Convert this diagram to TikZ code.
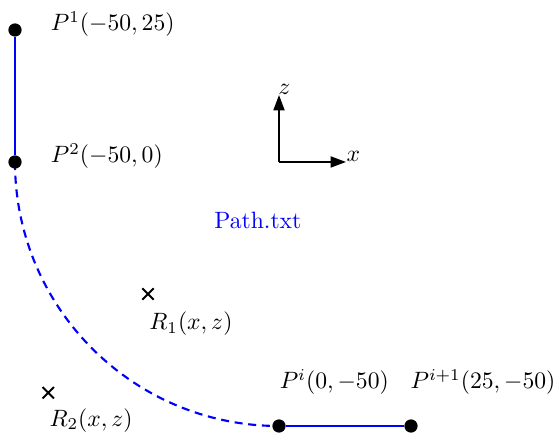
\documentclass[tikz,border=0pt]{standalone}
\usepackage{amsmath}
\usepackage{xcolor}
\usepackage{tikz}
\usetikzlibrary{arrows.meta,positioning,shapes.misc,backgrounds}
\definecolor{cpath}{HTML}{0000FF}
\tikzset{
  pdot/.style={circle, fill=black, inner sep=0pt, minimum size=5.6pt},
  rx/.style={cross out, draw=black, thick, inner sep=0pt, minimum size=4pt},
  lbl/.style={inner sep=1pt},
  seg/.style={draw=cpath, line width=0.9pt},
  dseg/.style={draw=cpath, line width=0.9pt, dash pattern=on 3.4pt off 2.4pt},
  axarr/.style={-{Triangle[length=6.5pt,width=4.6pt]}, line width=0.9pt},
}

\begin{document}
\begin{tikzpicture}[x=0.0785cm, y=0.0785cm]
  \useasboundingbox (-52.84,-51.33) rectangle (52.27,30.68);

  % path points
  \node[pdot] (p1) at (-50,25) {};
  \node[pdot] (p2) at (-50,0) {};
  \node[pdot] (pi) at (0,-50) {};
  \node[pdot] (pj) at (25,-50) {};

  \node[lbl, right=11pt of p1, yshift=2.5pt] (p1l) {$P^1(-50,25)$};
  \node[lbl, right=11pt of p2, yshift=2.5pt] (p2l) {$P^2(-50,0)$};
  \node[lbl, above right=10pt and -3pt of pi] (pil) {$P^i(0,-50)$};
  \node[lbl, above right=10pt and -3.5pt of pj] (pjl) {$P^{i+1}(25,-50)$};

  \draw[seg] (p1) -- (p2);
  \draw[seg] (pi) -- (pj);
  \begin{scope}[on background layer]
    \draw[dseg] (p2.center) arc[start angle=180, end angle=270, radius=50];
  \end{scope}

  % receivers
  \node[rx] (r1) at (-24.8,-25) {};
  \node[rx] (r2) at (-43.7,-43.7) {};
  \node[lbl, below right=4pt and -3pt of r1] (r1l) {$R_1(x,z)$};
  \node[lbl, below right=3pt and -3pt of r2] (r2l) {$R_2(x,z)$};

  % axes
  \coordinate (o) at (0,0);
  \coordinate (ax) at (12.7,0);
  \coordinate (az) at (0,12.7);
  \draw[axarr] (o) -- (ax);
  \draw[axarr] (o) -- (az);
  \node[anchor=base west, inner sep=0pt] (xl) at (ax) {$x$};
  \node[anchor=base west, inner sep=0pt, xshift=-0.5pt] (zl) at (az) {$z$};

  \node[text=cpath] (ptxt) at (-4,-11) {Path.txt};
\end{tikzpicture}
\end{document}
